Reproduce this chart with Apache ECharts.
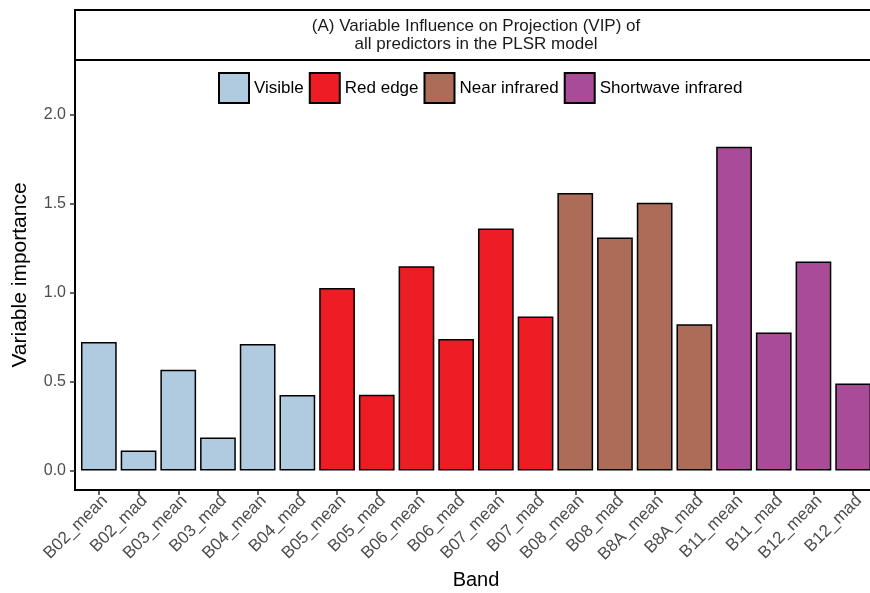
<!DOCTYPE html>
<html>
<head>
<meta charset="utf-8">
<script src="https://cdn.jsdelivr.net/npm/echarts@6/dist/echarts.min.js"></script>
<style>
html,body{margin:0;padding:0;background:#fff;}
#chart{width:870px;height:593px;}
</style>
</head>
<body>
<div id="chart"></div>
<script>
const categories = ['B02_mean','B02_mad','B03_mean','B03_mad','B04_mean','B04_mad','B05_mean','B05_mad','B06_mean','B06_mad','B07_mean','B07_mad','B08_mean','B08_mad','B8A_mean','B8A_mad','B11_mean','B11_mad','B12_mean','B12_mad'];
const values = [0.723,0.113,0.567,0.186,0.712,0.424,1.027,0.426,1.149,0.740,1.362,0.866,1.561,1.311,1.506,0.823,1.822,0.776,1.176,0.490];
const groupOf = ['Visible','Visible','Visible','Visible','Visible','Visible','Red edge','Red edge','Red edge','Red edge','Red edge','Red edge','Near infrared','Near infrared','Near infrared','Near infrared','Shortwave infrared','Shortwave infrared','Shortwave infrared','Shortwave infrared'];
const groups = ['Visible','Red edge','Near infrared','Shortwave infrared'];
const groupColors = ['#B0CADF','#ED1D24','#AC6C58','#A84C98'];
const yTicks = [0, 0.5, 1.0, 1.5, 2.0];
const titleLines = ['(A) Variable Influence on Projection (VIP) of', 'all predictors in the PLSR model'];

const font = 'Liberation Sans, Arial, Helvetica, sans-serif';
const chart = echarts.init(document.getElementById('chart'), null, {renderer:'canvas'});

const series = groups.map((g, gi) => ({
  name: g,
  type: 'bar',
  stack: 'all',
  barCategoryGap: '10%',
  data: values.map((v, i) => groupOf[i] === g ? v : null),
  itemStyle: { color: groupColors[gi], borderColor: '#000', borderWidth: 1.5 },
  emphasis: { disabled: true }
}));

const option = {
  animation: false,
  backgroundColor: '#fff',
  grid: { left: 79, right: -3, top: 60, bottom: 103, containLabel: false, outerBoundsMode: 'none' },
  legend: {
    data: groups,
    left: 213, top: 67,
    itemWidth: 30, itemHeight: 30, itemGap: 5,
    icon: 'rect',
    textStyle: { fontFamily: font, fontSize: 17, color: '#000' },
    selectedMode: false
  },
  xAxis: {
    type: 'category',
    data: categories,
    name: 'Band',
    nameLocation: 'middle',
    nameGap: 75,
    nameTextStyle: { fontFamily: font, fontSize: 20, color: '#000' },
    axisLine: { show: false, onZero: false },
    axisTick: { show: true, alignWithLabel: true, length: 5, lineStyle: { color: '#333', width: 1.5 } },
    axisLabel: { rotate: 45, margin: 2, verticalAlign: 'top', align: 'right', fontFamily: font, fontSize: 17, color: '#4d4d4d', interval: 0 },
    splitLine: { show: false }
  },
  yAxis: {
    type: 'value',
    min: -0.11, max: 2.31,
    offset: 4,
    name: 'Variable importance',
    nameLocation: 'middle',
    nameGap: 44,
    nameTextStyle: { fontFamily: font, fontSize: 21, color: '#000' },
    axisLine: { show: true, lineStyle: { color: '#000', width: 2 } },
    axisTick: { show: true, length: 5, customValues: yTicks, lineStyle: { color: '#333', width: 1.5 } },
    axisLabel: { margin: 9, customValues: yTicks, fontFamily: font, fontSize: 16, color: '#4d4d4d', formatter: v => v.toFixed(1) },
    splitLine: { show: false }
  },
  graphic: [
    { type: 'line', shape: { x1: 74, y1: 490, x2: 875, y2: 490 }, style: { stroke: '#000', lineWidth: 2 }, z: 10 },
    { type: 'rect', shape: { x: 75, y: 10, width: 810, height: 50 }, style: { fill: '#fff', stroke: '#000', lineWidth: 2 }, z: 10 },
    { type: 'text', x: 476, y: 26, style: { text: titleLines[0], fontFamily: font, fontSize: 17, fill: '#1a1a1a', textAlign: 'center', textVerticalAlign: 'middle' }, z: 11 },
    { type: 'text', x: 476, y: 44, style: { text: titleLines[1], fontFamily: font, fontSize: 17, fill: '#1a1a1a', textAlign: 'center', textVerticalAlign: 'middle' }, z: 11 }
  ],
  series: series
};
chart.setOption(option);
</script>
</body>
</html>
